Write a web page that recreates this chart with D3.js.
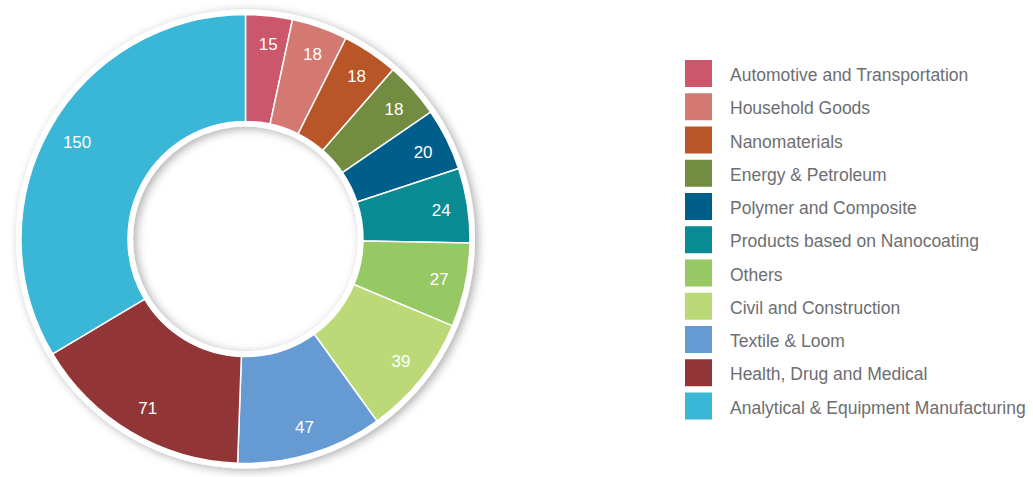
<!DOCTYPE html>
<html>
<head>
<meta charset="utf-8">
<script src="https://cdn.jsdelivr.net/npm/d3@7"></script>
<style>
  html, body { margin: 0; padding: 0; background: #ffffff; }
  svg { display: block; }
  text { font-family: "Liberation Sans", Arial, Helvetica, sans-serif; }
</style>
</head>
<body>
<svg id="chart" width="1033" height="477"></svg>
<script>
const categories = [
  "Automotive and Transportation",
  "Household Goods",
  "Nanomaterials",
  "Energy & Petroleum",
  "Polymer and Composite",
  "Products based on Nanocoating",
  "Others",
  "Civil and Construction",
  "Textile & Loom",
  "Health, Drug and Medical",
  "Analytical & Equipment Manufacturing"
];
const values = [15, 18, 18, 18, 20, 24, 27, 39, 47, 71, 150];
const colors = [
  "#cc566a", "#d47872", "#b85628", "#728c41", "#005e8a",
  "#0a8a92", "#96c964", "#bcd978", "#669ad3", "#913537", "#3ab6d6"
];

const data = categories.map((c, i) => ({ name: c, value: values[i], color: colors[i] }));

const svg = d3.select("#chart");
const cx = 245.5, cy = 239;
const outerR = 224.5, innerR = 117.5, ringW = 5, labelR = 196;

const defs = svg.append("defs");
const f = defs.append("filter").attr("id", "shadow")
  .attr("x", "-20%").attr("y", "-20%").attr("width", "140%").attr("height", "140%");
f.append("feDropShadow").attr("dx", 3).attr("dy", 2)
  .attr("stdDeviation", 5).attr("flood-color", "#000").attr("flood-opacity", 0.32);

const g = svg.append("g").attr("transform", `translate(${cx},${cy})`);

// white backing ring with drop shadow
g.append("path")
  .attr("d", d3.arc()({ innerRadius: innerR - ringW, outerRadius: outerR + ringW, startAngle: 0, endAngle: 2 * Math.PI }))
  .attr("fill", "#ffffff")
  .attr("filter", "url(#shadow)");

const pie = d3.pie().value(d => d.value).sort(null);
const arcs = pie(data);
const arc = d3.arc().innerRadius(innerR).outerRadius(outerR);
const labelArc = d3.arc().innerRadius(labelR).outerRadius(labelR);

g.selectAll("path.slice")
  .data(arcs)
  .join("path")
  .attr("class", "slice")
  .attr("d", arc)
  .attr("fill", d => d.data.color)
  .attr("stroke", "#ffffff")
  .attr("stroke-width", 1.5)
  .attr("stroke-linejoin", "round");

g.selectAll("text.val")
  .data(arcs)
  .join("text")
  .attr("class", "val")
  .attr("transform", d => { const [x, y] = labelArc.centroid(d); return `translate(${x + 2},${y})`; })
  .attr("text-anchor", "middle")
  .attr("dy", "0.36em")
  .attr("fill", "#ffffff")
  .attr("font-size", "17px")
  .text(d => d.data.value);

// legend
const legend = svg.append("g").attr("transform", "translate(685,60)");
const rowH = 33.25;
const rows = legend.selectAll("g.row").data(data).join("g")
  .attr("class", "row")
  .attr("transform", (d, i) => `translate(0,${i * rowH})`);
rows.append("rect").attr("width", 27).attr("height", 27).attr("fill", d => d.color);
rows.append("text")
  .attr("x", 45).attr("y", 21)
  .attr("fill", "#6d6e71")
  .attr("font-size", "17.5px")
  .text(d => d.name);
</script>
</body>
</html>
